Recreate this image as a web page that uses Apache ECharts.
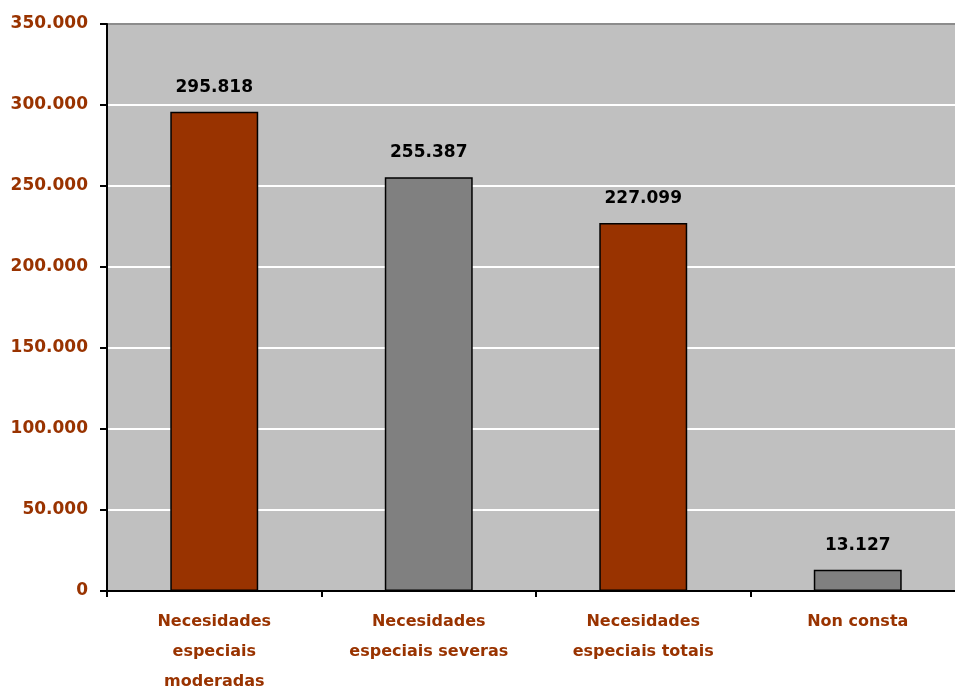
<!DOCTYPE html>
<html><head><meta charset="utf-8">
<script src="https://cdn.jsdelivr.net/npm/echarts@6/dist/echarts.min.js"></script>
<style>html,body{margin:0;padding:0;background:#fff}#c{width:955px;height:690px}</style>
</head><body><div id="c"></div>
<script>
const categories = ["Necesidades\nespeciais\nmoderadas", "Necesidades\nespeciais severas", "Necesidades\nespeciais totais", "Non consta"];
const values = [295818, 255387, 227099, 13127];
const barColors = ["#993300", "#808080", "#993300", "#808080"];
const yTicks = [0, 50000, 100000, 150000, 200000, 250000, 300000, 350000];

function fmt(v){ return String(Math.round(v)).replace(/\B(?=(\d{3})+(?!\d))/g, "."); }

const FONT = '"DejaVu Sans", Verdana, sans-serif';
const chart = echarts.init(document.getElementById('c'), null, {renderer:'canvas'});
chart.setOption({
  animation:false,
  backgroundColor:'#ffffff',
  grid:{left:107, right:-10, top:24, bottom:99, show:true, backgroundColor:'#c0c0c0', borderWidth:0, outerBoundsMode:'none', containLabel:false},
  xAxis:{
    type:'category', data:categories,
    axisLine:{lineStyle:{color:'#000', width:2}},
    axisTick:{show:true, alignWithLabel:false, length:6, lineStyle:{color:'#000', width:2}},
    axisLabel:{color:'#993300', fontFamily:FONT, fontWeight:'bold', fontSize:16, lineHeight:30, margin:16, interval:0}
  },
  yAxis:{
    type:'value', min:0, max:350000, interval:50000,
    axisLine:{show:true, lineStyle:{color:'#000', width:2}},
    axisTick:{show:true, length:7, lineStyle:{color:'#000', width:2}},
    splitLine:{show:true, lineStyle:{color:['#ffffff','#ffffff','#ffffff','#ffffff','#ffffff','#ffffff','#ffffff','#8c8c8c'], width:2}},
    axisLabel:{color:'#993300', fontFamily:FONT, fontWeight:'bold', fontSize:17, margin:19,
      formatter:function(v){ return yTicks.indexOf(v)>=0 ? fmt(v) : ''; }}
  },
  series:[{
    type:'bar', barWidth:'41%',
    data:values.map((v,i)=>({value:v, itemStyle:{color:barColors[i]}})),
    itemStyle:{borderColor:'#000', borderWidth:1.5},
    label:{show:true, position:'top', distance:16, color:'#000', fontFamily:FONT, fontWeight:'bold', fontSize:17,
      formatter:function(p){ return fmt(p.value); }}
  }]
});
</script></body></html>
